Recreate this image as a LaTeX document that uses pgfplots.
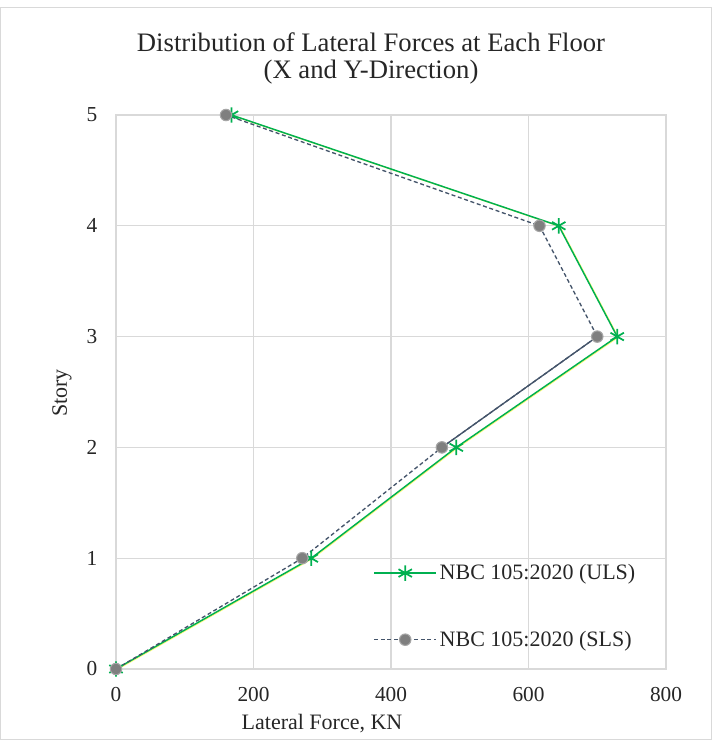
\documentclass[border=0pt]{standalone}
\usepackage{pgfplots}
\pgfplotsset{compat=1.18}
\usepackage{fontspec}
\setmainfont{Liberation Serif}
\definecolor{ulsgreen}{HTML}{00B050}
\definecolor{slsline}{HTML}{44546A}
\definecolor{slsmark}{HTML}{7F7F7F}
\definecolor{slsedge}{HTML}{A6A6A6}
\definecolor{gridc}{HTML}{D9D9D9}
\begin{document}
\begin{tikzpicture}[x=0.75pt,y=0.75pt]
\path[use as bounding box] (0,0) rectangle (719,740);
\draw[gridc] (0.5,0.5) rectangle (711,733);
\begin{axis}[at={(87pt,53.25pt)}, anchor=south west, scale only axis,
  width=412.5pt, height=415.5pt,
  xmin=0, xmax=800, ymin=0, ymax=5,
  xtick={0,200,...,800}, ytick={0,1,...,5},
  grid=major, grid style={gridc, line width=1pt},
  axis line style={gridc, line width=1pt}, tick style={draw=none},
  /pgf/number format/assume math mode=true,
  ticklabel style={font=\fontsize{16}{19}\selectfont, text=black!85},
  xticklabel style={yshift=-10pt},
  yticklabel style={xshift=-10.5pt},
  clip=false,
  legend style={at={(axis cs:374,0.97)}, anchor=north west, draw=none, fill=none,
    inner sep=0pt, row sep=33pt, font=\fontsize{16.5}{19}\selectfont, text=black!85},
  legend cell align=left,
  legend image code/.code={\draw[mark repeat=2,mark phase=2] plot coordinates {(0cm,0cm)(0.82cm,0cm)(1.64cm,0cm)};},
]
\addplot[yellow!85, line width=1pt, opacity=0.6, xshift=0.7pt, yshift=-0.4pt, forget plot] coordinates {(0,0)(284,1)(495,2)(729,3)(644,4)(168,5)};
\addplot[ulsgreen, line width=1.1pt, mark=asterisk, mark size=5.8pt, mark options={line width=1.3pt}] coordinates {(0,0)(284,1)(495,2)(729,3)(644,4)(168,5)};
\addlegendentry{NBC 105:2020 (ULS)}
\addplot[slsline, line width=1pt, forget plot] coordinates {(474,2)(700,3)};
\addplot[slsline, line width=1pt, dash pattern=on 3pt off 2pt, mark=*, mark size=4.3pt, mark options={solid, fill=slsmark, draw=slsedge, line width=0.8pt}] coordinates {(0,0)(271,1)(474,2)(700,3)(616,4)(160,5)};
\addlegendentry{NBC 105:2020 (SLS)}
\end{axis}
\node[font=\fontsize{20}{24}\selectfont, text=black!85] at (371,698) {Distribution of Lateral Forces at Each Floor};
\node[font=\fontsize{20}{24}\selectfont, text=black!85] at (371,668) {(X and Y-Direction)};
\node[font=\fontsize{16.5}{19}\selectfont, text=black!85] at (322,16) {Lateral Force, KN};
\node[font=\fontsize{16.5}{19}\selectfont, text=black!85, rotate=90] at (62,347) {Story};
\end{tikzpicture}
\end{document}
